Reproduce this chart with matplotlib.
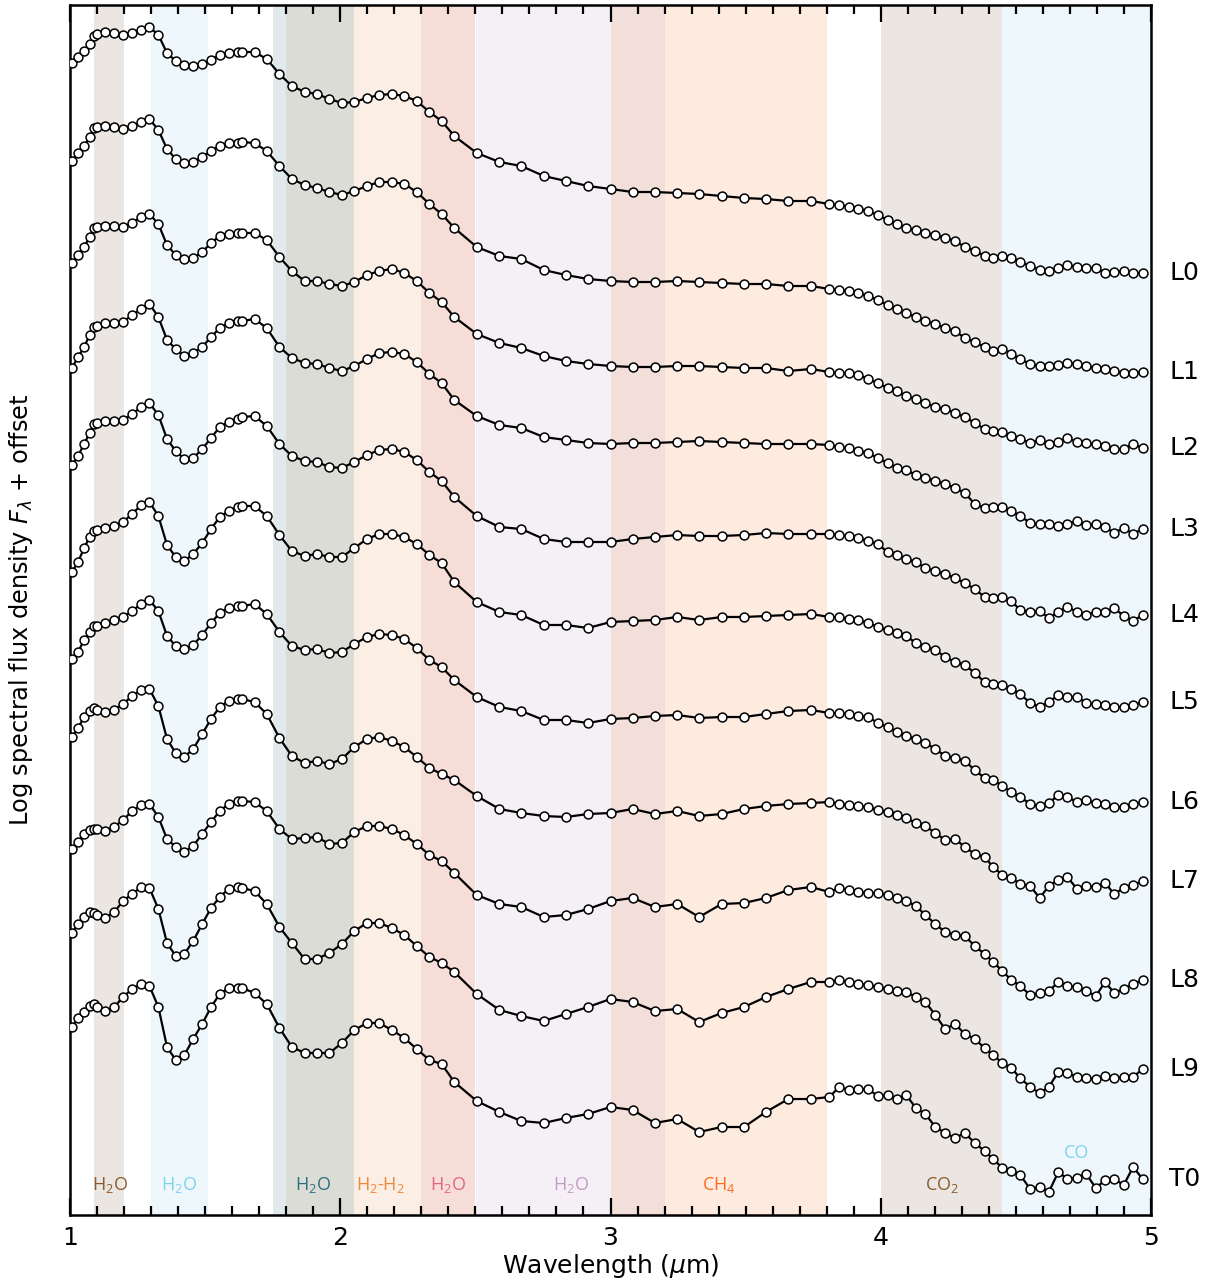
import matplotlib
matplotlib.use("Agg")
import matplotlib.pyplot as plt
from matplotlib.ticker import MultipleLocator
import matplotlib.transforms as mtransforms

plt.rcParams['font.family'] = ['DejaVu Sans']
plt.rcParams['mathtext.fontset'] = 'custom'
plt.rcParams['mathtext.rm'] = 'Open Sans'
plt.rcParams['mathtext.it'] = 'Open Sans:italic'

# wavelength grid (micron)
wave = [1.007, 1.030, 1.052, 1.073, 1.089, 1.099,
        1.131, 1.164, 1.196, 1.230, 1.263, 1.294, 1.327, 1.359, 1.391, 1.423, 1.456, 1.489,
        1.522, 1.554, 1.587, 1.621, 1.636,
        1.683, 1.728, 1.775, 1.821, 1.868, 1.913, 1.960, 2.006, 2.052,
        2.099, 2.144, 2.191, 2.237, 2.283, 2.330, 2.375, 2.422,
        2.505, 2.589, 2.670, 2.753, 2.835, 2.917, 3.000, 3.082,
        3.164, 3.247, 3.328, 3.411, 3.494, 3.575, 3.658, 3.741,
        3.810, 3.846, 3.882, 3.917, 3.953, 3.989, 4.025, 4.061,
        4.094, 4.130, 4.165, 4.202, 4.238, 4.275, 4.311, 4.348, 4.384, 4.416, 4.450, 4.483,
        4.516, 4.553, 4.588, 4.622, 4.657, 4.691, 4.726, 4.760, 4.796, 4.830, 4.864, 4.899,
        4.934, 4.969]

# log flux + offset (arbitrary units)
l0 = [1152, 1158, 1164, 1171, 1179, 1181,
      1183, 1182, 1180, 1182, 1185, 1188, 1180, 1162, 1154, 1150, 1149, 1151, 1155, 1160, 1162, 1163, 1163,
      1163, 1156, 1141, 1129, 1123, 1121, 1116, 1112, 1113,
      1117, 1120, 1121, 1119, 1114, 1103, 1094, 1079,
      1062, 1053, 1049, 1039, 1034, 1029, 1026, 1023,
      1023, 1022, 1021, 1019, 1017, 1016, 1014, 1014,
      1011, 1010, 1008, 1006, 1004, 1000, 995, 991,
      987, 985, 982, 980, 977, 974, 968, 964, 959, 957, 959, 957, 953, 949, 945, 944,
      947, 950, 948, 947, 947, 942, 943, 944, 942, 942]
l1 = [1054, 1062, 1069, 1078, 1087, 1088,
      1089, 1088, 1086, 1089, 1093, 1096, 1085, 1066, 1056, 1052, 1053, 1058, 1064, 1069, 1072, 1072, 1073,
      1072, 1064, 1049, 1036, 1030, 1027, 1023, 1020, 1024,
      1029, 1033, 1033, 1031, 1023, 1011, 1001, 987,
      968, 959, 956, 945, 940, 936, 934, 933,
      933, 934, 933, 932, 931, 931, 929, 929,
      926, 925, 924, 922, 919, 915, 910, 906,
      902, 898, 894, 891, 887, 884, 877, 873, 868, 864, 866, 861, 856, 851, 849, 849,
      850, 852, 851, 849, 847, 846, 844, 842, 842, 843]
l2 = [952, 960, 968, 978, 987, 988,
      989, 989, 988, 992, 998, 1001, 991, 970, 960, 956, 957, 963, 972, 979, 981, 982, 982,
      982, 975, 958, 944, 934, 934, 931, 929, 933,
      940, 944, 946, 942, 934, 922, 913, 898,
      881, 872, 867, 859, 854, 851, 849, 848,
      848, 849, 849, 848, 847, 847, 844, 846,
      843, 842, 842, 840, 836, 832, 827, 824,
      819, 816, 812, 808, 806, 802, 798, 792, 786, 784, 783, 779, 776, 772, 775, 771,
      773, 777, 773, 772, 771, 769, 766, 766, 771, 767]
l3 = [847, 858, 868, 880, 888, 889,
      892, 892, 893, 900, 906, 911, 898, 875, 866, 859, 862, 868, 878, 887, 892, 894, 894,
      896, 887, 868, 857, 852, 851, 847, 844, 849,
      856, 862, 863, 861, 853, 841, 832, 815,
      799, 790, 787, 778, 775, 772, 771, 772,
      772, 773, 774, 773, 772, 771, 771, 771,
      770, 768, 767, 764, 762, 757, 752, 747,
      745, 740, 737, 734, 731, 727, 722, 711, 707, 708, 708, 704, 699, 692, 691, 691,
      689, 691, 694, 690, 691, 688, 682, 687, 681, 686]
l4 = [750, 759, 771, 782, 791, 792,
      794, 794, 795, 801, 808, 812, 800, 776, 764, 756, 757, 766, 777, 788, 793, 796, 798,
      799, 789, 771, 759, 754, 753, 748, 747, 753,
      760, 765, 766, 763, 755, 743, 734, 718,
      699, 688, 686, 676, 673, 673, 673, 676,
      678, 680, 679, 679, 680, 682, 681, 681,
      681, 680, 679, 677, 674, 671, 663, 660,
      656, 653, 647, 644, 641, 637, 632, 626, 618, 617, 618, 614, 605, 603, 604, 597,
      603, 608, 603, 600, 603, 603, 607, 599, 594, 600]
l5 = [643, 653, 667, 678, 684, 685,
      687, 689, 693, 701, 710, 713, 699, 670, 658, 654, 661, 672, 686, 698, 704, 708, 709,
      709, 699, 680, 664, 659, 661, 658, 658, 667,
      676, 681, 681, 678, 671, 660, 652, 633,
      613, 603, 600, 590, 590, 587, 593, 594,
      595, 598, 595, 598, 598, 599, 600, 601,
      598, 598, 596, 595, 592, 588, 585, 582,
      579, 572, 568, 565, 558, 553, 550, 542, 533, 531, 530, 526, 521, 512, 508, 513,
      520, 518, 518, 512, 511, 510, 508, 508, 510, 513]
l6 = [556, 563, 575, 583, 589, 589,
      592, 595, 598, 604, 611, 615, 604, 579, 569, 566, 570, 580, 592, 602, 607, 609, 609,
      611, 601, 583, 569, 565, 566, 562, 563, 571,
      578, 581, 580, 576, 567, 555, 548, 535,
      518, 508, 504, 495, 495, 492, 496, 497,
      499, 500, 497, 498, 498, 501, 504, 505,
      502, 502, 501, 499, 498, 492, 488, 483,
      479, 476, 472, 466, 459, 457, 454, 445, 437, 435, 429, 423, 418, 411, 409, 412,
      420, 418, 413, 415, 412, 411, 408, 408, 411, 413]
l7 = [478, 487, 498, 504, 507, 505,
      503, 505, 511, 519, 525, 526, 509, 476, 462, 458, 466, 481, 496, 508, 514, 516, 516,
      513, 501, 477, 459, 452, 454, 451, 456, 468,
      476, 478, 474, 468, 458, 447, 441, 435,
      419, 406, 402, 399, 398, 401, 402, 406,
      401, 404, 399, 401, 406, 409, 411, 412,
      413, 411, 410, 409, 408, 405, 403, 400,
      397, 392, 389, 382, 375, 376, 368, 361, 358, 348, 340, 337, 331, 329, 317, 329,
      335, 338, 326, 329, 328, 332, 321, 327, 330, 334]
l8 = [366, 373, 381, 385, 386, 386,
      384, 388, 395, 404, 410, 411, 398, 376, 368, 363, 369, 381, 393, 404, 411, 414, 414,
      413, 404, 386, 376, 377, 378, 371, 372, 383,
      389, 389, 386, 380, 371, 360, 354, 342,
      320, 311, 308, 298, 300, 306, 314, 317,
      308, 311, 298, 311, 312, 317, 325, 328,
      323, 327, 325, 323, 322, 322, 320, 317,
      314, 309, 300, 291, 283, 280, 279, 269, 261, 253, 244, 235, 229, 220, 222, 224,
      233, 229, 228, 224, 219, 233, 222, 226, 231, 235]
l9 = [282, 291, 298, 303, 302, 300,
      297, 303, 314, 321, 328, 327, 306, 272, 259, 261, 274, 291, 307, 318, 326, 328, 327,
      324, 311, 288, 272, 256, 256, 262, 271, 284,
      292, 292, 287, 280, 269, 258, 252, 243,
      221, 205, 199, 194, 201, 208, 216, 213,
      204, 206, 193, 202, 208, 218, 226, 233,
      233, 235, 233, 231, 230, 228, 226, 224,
      223, 218, 213, 200, 186, 191, 181, 176, 167, 160, 152, 147, 137, 128, 122, 128,
      143, 142, 138, 137, 136, 139, 137, 138, 138, 146]
t0 = [188, 197, 203, 209, 211, 208,
      204, 208, 218, 226, 231, 229, 208, 168, 155, 160, 176, 191, 208, 221, 227, 227, 227,
      222, 211, 187, 168, 162, 162, 162, 172, 185,
      192, 192, 185, 177, 166, 155, 151, 133,
      114, 103, 94, 92, 97, 101, 108, 105,
      92, 96, 83, 88, 88, 103, 116, 116,
      118, 128, 125, 126, 126, 119, 120, 116,
      120, 107, 101, 88, 82, 77, 82, 72, 64, 56, 47, 44, 40, 26, 28, 23,
      43, 36, 37, 41, 27, 35, 36, 30, 48, 36]

spectra = [l0, l1, l2, l3, l4, l5, l6, l7, l8, l9, t0]
spt_names = ['L0', 'L1', 'L2', 'L3', 'L4', 'L5', 'L6', 'L7', 'L8', 'L9', 'T0']

# absorption bands: start, end, fill colour
band_start = [1.09, 1.30, 1.75, 1.80, 2.05, 2.30, 2.503, 3.00, 3.20, 4.00, 4.45]
band_end = [1.20, 1.51, 1.80, 2.05, 2.30, 2.497, 3.00, 3.20, 3.80, 4.45, 5.00]
band_color = ['#ebe6e1', '#eef7fb', '#e0e9ec', '#dcdcd6', '#fbeee5', '#f7ddd7',
              '#f4f0f5', '#f2dfd9', '#feebe0', '#ebe6e1', '#eef7fb']

# molecule labels
mol_text = [r'H$_2$O', r'H$_2$O', r'H$_2$O', r'H$_2$-H$_2$', r'H$_2$O', r'H$_2$O',
            r'CH$_4$', r'CO$_2$', 'CO']
mol_x = [1.147, 1.405, 1.90, 2.15, 2.40, 2.855, 3.40, 4.225, 4.723]
mol_y = [30, 30, 30, 30, 30, 30, 30, 30, 62]
mol_color = ['#8c5a2e', '#7fd1f0', '#2a7080', '#f0883a', '#e06680', '#c49ac6',
             '#ff6a1e', '#8c5a2e', '#7fd1f0']

fig = plt.figure(figsize=(12.15, 12.8), dpi=100)
ax = fig.add_axes([70 / 1215, 1 - 1215 / 1280, 1081 / 1215, 1210 / 1280])

for s, e, c in zip(band_start, band_end, band_color):
    ax.axvspan(s, e, color=c, lw=0, zorder=0)

for flux in spectra:
    ax.plot(wave, flux, '-o', color='black', lw=1.6, ms=6.4,
            mfc='white', mec='black', mew=1.1, zorder=3)

for t, x, y, c in zip(mol_text, mol_x, mol_y, mol_color):
    ax.text(x, y, t, color=c, fontsize=13, ha='center', va='center', zorder=4,
            family='Open Sans')

trans = mtransforms.blended_transform_factory(ax.transAxes, ax.transData)
for name, flux in zip(spt_names, spectra):
    ax.text(1.017, flux[-1], name, transform=trans, fontsize=18,
            ha='left', va='center', clip_on=False)

ax.set_xlim(1, 5)
ax.set_ylim(0, 1210)
ax.xaxis.set_major_locator(MultipleLocator(1))
ax.xaxis.set_minor_locator(MultipleLocator(0.1))
ax.tick_params(axis='x', which='both', direction='in', top=True, bottom=True,
               width=1.6, labelsize=18, pad=8)
ax.tick_params(axis='x', which='major', length=12)
ax.tick_params(axis='x', which='minor', length=6.5)
ax.set_yticks([])
for sp in ax.spines.values():
    sp.set_linewidth(1.8)

ax.set_xlabel(r'Wavelength ($\mu$m)', fontsize=18, labelpad=1,
              math_fontfamily='dejavusans')
ax.set_ylabel(r'Log spectral flux density $F_\lambda$ + offset', fontsize=17.3,
              labelpad=25, math_fontfamily='dejavusans')

fig.savefig('out.png', dpi=100)
